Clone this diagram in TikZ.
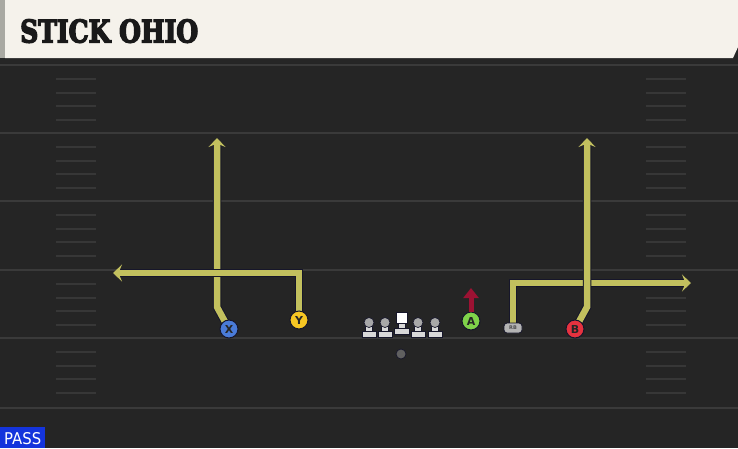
\documentclass[tikz,border=0pt]{standalone}
\usepackage{fontspec}
\setmainfont{DejaVu Sans}
\newfontfamily\headfont{DejaVu Serif}[UprightFeatures={FakeBold=5}, BoldFeatures={FakeBold=5}]
\usetikzlibrary{arrows.meta}
\definecolor{fieldbg}{HTML}{252525}
\definecolor{yardline}{HTML}{3A3A3A}
\definecolor{hashcol}{HTML}{373737}
\definecolor{headbg}{HTML}{F5F2EB}
\definecolor{headstrip}{HTML}{A9A9A2}
\definecolor{routey}{HTML}{C2C05E}
\definecolor{routeo}{HTML}{16162A}
\definecolor{xblue}{HTML}{4A7BD8}
\definecolor{yyellow}{HTML}{F6C623}
\definecolor{agreen}{HTML}{7FD24A}
\definecolor{bred}{HTML}{E6323F}
\definecolor{rbgray}{HTML}{B4B4B4}
\definecolor{blockred}{HTML}{9C1233}
\definecolor{passblue}{HTML}{1434DC}
\definecolor{olhead}{HTML}{A8A8A8}
\definecolor{olbase}{HTML}{D8D8D8}
\tikzset{
  route/.style={draw=routey, line width=6.5pt, line join=miter,
    preaction={draw=routeo, line width=8.5pt}},
  routetip/.style={-{Stealth[length=9pt,width=17pt,inset=3.5pt]}},
  player/.style={circle, minimum size=18pt, inner sep=0pt, draw=routeo,
    line width=1pt, font=\bfseries\fontsize{11}{11}\selectfont, text=black!85},
  rbbox/.style={rounded corners=3pt, minimum width=18pt, minimum height=10pt,
    inner sep=0pt, fill=rbgray, draw=routeo, line width=0.8pt,
    font=\bfseries\fontsize{5}{5}\selectfont, text=black!70},
  yard/.style={draw=yardline, line width=2pt},
  hashm/.style={draw=hashcol, line width=1.8pt},
  olpart/.style={fill=olbase, draw=routeo, line width=0.7pt},
}
\begin{document}
\begin{tikzpicture}[x=1pt,y=-1pt]
\useasboundingbox (0,0) rectangle (738,448);
\fill[fieldbg] (0,0) rectangle (738,448);
% header
\fill[black!85] (0,58) rectangle (738,63);
\fill[headbg] (5,0) -- (738,0) -- (738,47) -- (733,58) -- (5,58) -- cycle;
\fill[headstrip] (0,0) rectangle (5,58);
\node[anchor=south west, inner sep=0pt, text=black!90] (title) at (20,43)
  {\resizebox{178pt}{23pt}{\headfont\bfseries STICK OHIO}};
% yard lines
\foreach \y in {65,133,201,270,338,408} {
  \draw[yard] (0,\y) -- (738,\y);
}
% hash marks
\foreach \y in {65,133,201,270,338} {
  \foreach \d in {14,28,41,55} {
    \draw[hashm] (56,\y+\d) -- (96,\y+\d);
    \draw[hashm] (646,\y+\d) -- (686,\y+\d);
  }
}
% player positions
\coordinate (Xp) at (229,329);
\coordinate (Yp) at (299,320);
\coordinate (Ap) at (471,321);
\coordinate (Bp) at (575,329);
\coordinate (RBp) at (513,328);
% route bend points
\coordinate (Xb) at (217,307);
\coordinate (Xt) at (217,138);
\coordinate (Yb) at (299,273);
\coordinate (Yt) at (113,273);
\coordinate (RBb) at (513,283);
\coordinate (RBt) at (691,283);
\coordinate (Bb) at (587,307);
\coordinate (Bt) at (587,138);
\coordinate (At) at (471,288);
% routes
\draw[route, routetip] (Xp) -- (Xb) -- (Xt);
\draw[route, routetip] (Yp) -- (Yb) -- (Yt);
\draw[route, routetip] (RBp) -- (RBb) -- (RBt);
\draw[route, routetip] (Bp) -- (Bb) -- (Bt);
% players
\node[player, fill=xblue] (X) at (Xp) {X};
\node[player, fill=yyellow] (Y) at (Yp) {Y};
\node[player, fill=agreen] (A) at (Ap) {A};
\node[player, fill=bred] (B) at (Bp) {B};
\node[rbbox] (RB) at (RBp) {RB};
\draw[draw=blockred, line width=5pt, -{Triangle[length=10pt,width=15pt]}] (A.north) -- (At);
% offensive line
\foreach \x/\n in {369/LT,385/LG,418/RG,435/RT} {
  \path[olpart] (\x-7,331.5) rectangle (\x+7,337.5);
  \path[olpart] (\x-3.5,325) rectangle (\x+3.5,331.5);
  \node[circle, minimum size=10pt, inner sep=0pt, fill=olhead, draw=routeo, line width=0.7pt] (\n) at (\x,322.5) {};
}
\path[olpart] (394,328) rectangle (409,334);
\path[olpart] (398,322) rectangle (405,328);
\node[rectangle, minimum width=11pt, minimum height=11pt, inner sep=0pt, fill=white, draw=routeo, line width=0.7pt] (C) at (401.5,318) {};
\node[circle, minimum size=10pt, inner sep=0pt, fill=gray!75!black, draw=routeo, line width=0.7pt] (ball) at (401,354) {};
% pass label
\fill[passblue] (0,427) rectangle (45,448);
\node[anchor=south west, inner sep=0pt, text=white] (pass) at (4,445)
  {\resizebox{37pt}{12pt}{PASS}};
\end{tikzpicture}
\end{document}
